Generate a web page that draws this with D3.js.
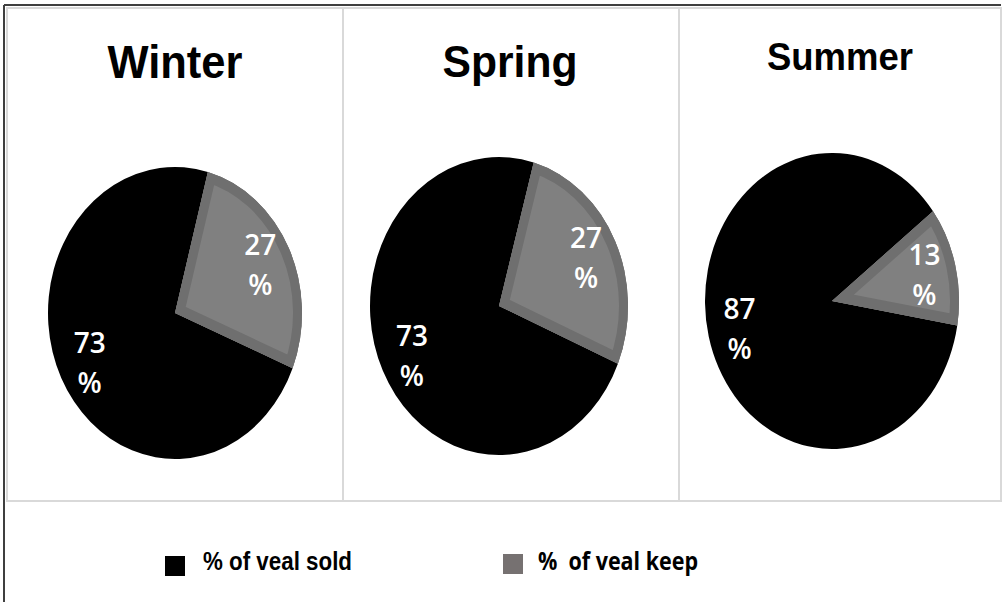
<!DOCTYPE html>
<html>
<head>
<meta charset="utf-8">
<script src="https://cdn.jsdelivr.net/npm/d3@7"></script>
<style>
  html, body { margin: 0; padding: 0; background: #fff; }
  svg { display: block; }
</style>
</head>
<body>
<svg id="chart" width="1002" height="602"></svg>
<script>
// ---- data ----
const seasons = ["Winter", "Spring", "Summer"];
const categories = ["% of veal sold", "% of veal keep"];
const legendLabels = ["% of veal sold", "%  of veal keep"];
const soldValues = [73, 73, 87];
const keepValues = [27, 27, 13];
// angle (degrees, clockwise from 12 o'clock) where the "keep" slice begins
const keepStartDeg = [15, 15.6, 52.7];

// ---- layout / style ----
const svg = d3.select("#chart");
const panelEdges = [7, 343, 679, 1001];
const pieGeom = {
  Winter: { cx: 175, cy: 313, rx: 127, ry: 146, tx: 175, ty: 78, fs: 47, tl: 135 },
  Spring: { cx: 499, cy: 306, rx: 129, ry: 149, tx: 510, ty: 77, fs: 45, tl: 135 },
  Summer: { cx: 832, cy: 301, rx: 127, ry: 148, tx: 840, ty: 70, fs: 39, tl: 146 }
};
const colors = d3.scaleOrdinal().domain(categories).range(["#000000", "#6f6f6f"]);
const innerGray = "#808080";
const legendColors = d3.scaleOrdinal().domain(categories).range(["#000000", "#767171"]);

// outer frame
svg.append("line").attr("x1", 4).attr("x2", 1001).attr("y1", 5).attr("y2", 5)
  .attr("stroke", "#3f3f3f").attr("stroke-width", 2);
svg.append("line").attr("x1", 4).attr("x2", 4).attr("y1", 5).attr("y2", 602)
  .attr("stroke", "#3f3f3f").attr("stroke-width", 2);

// panel borders
seasons.forEach((s, i) => {
  svg.append("rect")
    .attr("x", panelEdges[i]).attr("y", 8)
    .attr("width", panelEdges[i + 1] - panelEdges[i]).attr("height", 493)
    .attr("fill", "none").attr("stroke", "#d9d9d9").attr("stroke-width", 2);
});

const pie = d3.pie().sort(null).value(d => d.value);
const defs = svg.append("defs");

seasons.forEach((s, i) => {
  const g = pieGeom[s];
  const data = [
    { key: categories[1], value: keepValues[i] },
    { key: categories[0], value: soldValues[i] }
  ];
  const start = keepStartDeg[i] * Math.PI / 180;
  const arcs = pie.startAngle(start).endAngle(start + 2 * Math.PI)(data);
  const arc = d3.arc().innerRadius(0).outerRadius(g.rx);
  const sy = g.ry / g.rx;
  const tf = `translate(${g.cx},${g.cy}) scale(1,${sy})`;
  const pg = svg.append("g").attr("transform", tf);

  arcs.forEach(a => {
    const path = arc(a);
    pg.append("path").attr("d", path).attr("fill", colors(a.data.key));
    if (a.data.key === categories[1]) {
      const id = "clip" + i;
      defs.append("clipPath").attr("id", id).append("path").attr("d", path)
        .attr("transform", tf);
      // lighter inner fill, leaving a darker band along the slice edges
      svg.append("g").attr("clip-path", `url(#${id})`)
        .append("path")
        .attr("transform", tf)
        .attr("d", path)
        .attr("fill", innerGray)
        .attr("stroke", colors(a.data.key))
        .attr("stroke-width", 18)
        .attr("stroke-linejoin", "miter");
    }
  });

  // labels
  const labelArc = d3.arc().innerRadius(g.rx * 0.75).outerRadius(g.rx * 0.75);
  arcs.forEach(a => {
    const [lx, ly] = labelArc.centroid(a);
    const x = g.cx + lx, y = g.cy + ly * sy;
    const t = svg.append("text")
      .attr("text-anchor", "middle")
      .attr("fill", "#ffffff")
      .attr("font-family", "'Open Sans', 'Noto Sans', sans-serif")
      .attr("font-weight", 600)
      .attr("font-size", 28);
    t.append("tspan").attr("x", x).attr("y", y - 9).text(a.data.value);
    t.append("tspan").attr("x", x).attr("y", y + 31).text("%");
  });

  // title
  svg.append("text")
    .attr("x", g.tx).attr("y", g.ty)
    .attr("text-anchor", "middle")
    .attr("font-family", "'Liberation Sans', Arial, sans-serif")
    .attr("font-weight", "bold")
    .attr("font-size", g.fs)
    .attr("textLength", g.tl)
    .attr("lengthAdjust", "spacingAndGlyphs")
    .attr("fill", "#000")
    .text(s);
});

// legend
const legendPos = [
  { sx: 165, sy: 556, tx: 203, tl: 149, font: "'Liberation Sans', Arial, sans-serif", fs: 26 },
  { sx: 503, sy: 554, tx: 538, tl: 160, font: "'Open Sans', 'Noto Sans', sans-serif", fs: 25 }
];
categories.forEach((c, i) => {
  const p = legendPos[i];
  svg.append("rect").attr("x", p.sx).attr("y", p.sy).attr("width", 20).attr("height", 20)
    .attr("fill", legendColors(c));
  svg.append("text").attr("x", p.tx).attr("y", 570)
    .attr("font-family", p.font).attr("font-weight", "bold").attr("font-size", p.fs)
    .attr("textLength", p.tl).attr("lengthAdjust", "spacingAndGlyphs")
    .attr("fill", "#000").attr("xml:space", "preserve")
    .style("white-space", "pre")
    .text(legendLabels[i]);
});
</script>
</body>
</html>
